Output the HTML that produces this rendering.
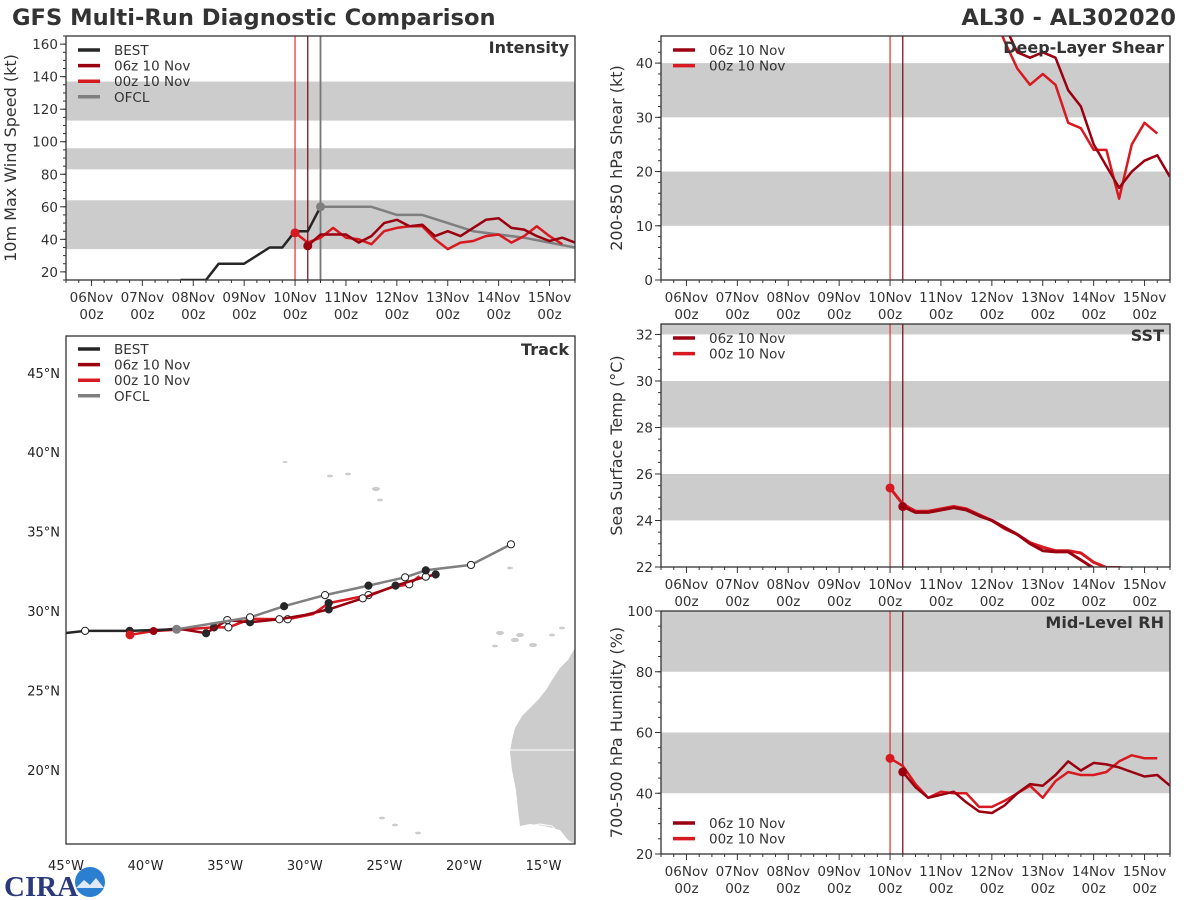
<!DOCTYPE html>
<html><head><meta charset="utf-8"><style>
html,body{margin:0;padding:0;background:#fff;}
svg{display:block;font-family:"DejaVu Sans","Liberation Sans",sans-serif;}
</style></head><body>
<svg id="chart" width="1200" height="900" viewBox="0 0 1200 900">
<text x="12" y="25" font-size="22.6" font-weight="bold" fill="#333">GFS Multi-Run Diagnostic Comparison</text>
<text x="1176" y="25" font-size="22.6" font-weight="bold" fill="#333" text-anchor="end">AL30 - AL302020</text>
<g>
<text x="4" y="896" font-size="29" font-weight="bold" fill="#2a3a7a" font-family="Liberation Serif, serif">CIRA</text>
<circle cx="90" cy="882" r="15" fill="#2a7fd0"/>
<path d="M76 888 L84 880 L90 885 L96 878 L104 888 Z" fill="#dfe8f5"/>
</g>
</svg>
<script>
// ---------- DATA ----------
const dayLabels = ["06Nov","07Nov","08Nov","09Nov","10Nov","11Nov","12Nov","13Nov","14Nov","15Nov"];
const intTicks = [20,40,60,80,100,120,140,160];
const shearTicks = [0,10,20,30,40];
const sstTicks = [22,24,26,28,30,32];
const rhTicks = [20,40,60,80,100];
const bestT = [42,48,54,60,66,72,78,84,90,96,102,108];
const bestV = [15,15,15,25,25,25,30,35,35,45,45,60];
const ofclT = [108,120,132,144,156,168,180,192,204,216,228];
const ofclV = [60,60,60,55,55,50,45,43,41,38,35];
const run06Start = 102;
const run00Start = 96;
const int06 = [36,43,43,43,38,42,50,52,48,49,42,45,42,47,52,53,47,46,42,39,41,38];
const int00 = [44,38,41,47,41,40,37,45,47,48,48,40,34,38,39,42,43,38,42,48,42,37];
const shear06 = [58,57,55,54,56,55,53,50,47,42,41,42,41,35,32,25,21,17,20,22,23,19];
const shear00 = [57,56,55,54,55,56,54,52,50,44,39,36,38,36,29,28,24,24,15,25,29,27];
const sst06 = [24.6,24.35,24.35,24.45,24.55,24.45,24.2,24.0,23.7,23.4,23.0,22.7,22.65,22.65,22.3,21.95,21.7,21.5,21.3,21.1,21.0,20.9];
const sst00 = [25.4,24.7,24.4,24.4,24.5,24.6,24.5,24.25,24.0,23.65,23.4,23.05,22.85,22.7,22.7,22.6,22.2,21.98,21.98,21.9,21.7,21.5];
const rh06 = [47,42,38.5,39.5,40.5,37,34,33.5,36,40,43,42.5,46,50.5,47.5,50,49.5,48.5,47,45.5,46,42.5];
const rh00 = [51.5,49,43,38.5,40.5,40,40,35.5,35.5,37.5,40,42.5,38.5,44,47,46,46,47,50.5,52.5,51.5,51.5];
// track
const latTicks = [20,25,30,35,40,45];
const lonTicks = [-45,-40,-35,-30,-25,-20,-15];
const bestLon = [-46,-43.8,-41.0,-38.05];
const bestLat = [28.5,28.75,28.75,28.85];
const bestMark = ["n","o","f","n"];
const ofclLon = [-38.05,-33.44,-31.3,-28.73,-26.0,-23.7,-22.4,-19.56,-17.05];
const ofclLat = [28.85,29.6,30.3,31.0,31.6,32.12,32.56,32.9,34.2];
const ofclMark = ["n","o","f","o","f","o","f","o","o"];
const trk06Lon = [-39.5,-38.0,-36.2,-34.87,-33.44,-31.6,-30.0,-28.5,-26.36,-24.3,-22.4,-21.78];
const trk06Lat = [28.74,28.9,28.6,29.43,29.29,29.48,29.75,30.1,30.8,31.6,32.16,32.3];
const trk06Mark = ["n","n","f","o","f","o","n","f","o","f","o","f"];
const trk00Lon = [-40.98,-39.5,-37.5,-35.7,-34.8,-33.4,-31.08,-29.5,-28.5,-26.0,-24.5,-23.44,-22.8];
const trk00Lat = [28.5,28.74,28.85,28.97,28.97,29.5,29.48,29.8,30.5,31.0,31.5,31.68,32.2];
const trk00Mark = ["n","n","n","f","o","n","o","n","f","o","n","o","n"];

// ---------- HELPERS ----------
const NS = "http://www.w3.org/2000/svg";
const svg = document.getElementById("chart");
function mk(parent, tag, attrs){const e=document.createElementNS(NS,tag);for(const k in attrs)e.setAttribute(k,attrs[k]);parent.appendChild(e);return e;}
const C_BEST="#262626", C_06="#9b0010", C_00="#d71920", C_OFCL="#7f7f7f", C_BAND="#cccccc";
let clipId=0;

function timePanel(cfg){
  const {x0,x1,y0,y1,vmin,vmax}=cfg;
  const sx=h=>x0+(h+12)/240*(x1-x0);
  const sy=v=>y1-(v-vmin)/(vmax-vmin)*(y1-y0);
  const g=mk(svg,"g",{});
  
  
  const cid="clip"+(clipId++);
  const cp=mk(g,"clipPath",{id:cid});
  mk(cp,"rect",{x:x0,y:y0,width:x1-x0,height:y1-y0});
  const pg=mk(g,"g",{"clip-path":"url(#"+cid+")"});
  cfg.bands.forEach(b=>{
    const r=mk(pg,"rect",{x:x0,y:sy(b[1]),width:x1-x0,height:sy(b[0])-sy(b[1]),fill:C_BAND});
    
    
  });
  const vl1=mk(pg,"line",{x1:sx(96),x2:sx(96),y1:y0,y2:y1,stroke:"#e23030","stroke-width":1.2});
  
  
  const vl2=mk(pg,"line",{x1:sx(102),x2:sx(102),y1:y0,y2:y1,stroke:"#7a0010","stroke-width":1.2});
  
  
  if(cfg.ofclLine){
    const vl3=mk(pg,"line",{x1:sx(108),x2:sx(108),y1:y0,y2:y1,stroke:"#777","stroke-width":1.8});
    
    
  }
  for(let h=-12;h<=228;h+=6){
    const major=h%24===0;
    mk(g,"line",{x1:sx(h),x2:sx(h),y1:y1,y2:y1+(major?6:3),stroke:"#333","stroke-width":1});
  }
  dayLabels.forEach((d,i)=>{
    const t=mk(g,"text",{x:sx(i*24),y:y1+22,"font-size":13.5,"text-anchor":"middle",fill:"#333"});
    t.textContent=d;
    
    
    const t2=mk(g,"text",{x:sx(i*24),y:y1+39,"font-size":13.5,"text-anchor":"middle",fill:"#333"});
    t2.textContent="00z";
    
    
  });
  for(let v=Math.ceil(vmin/cfg.minor)*cfg.minor;v<=vmax+1e-9;v+=cfg.minor){
    mk(g,"line",{x1:x0-3,x2:x0,y1:sy(v),y2:sy(v),stroke:"#333","stroke-width":1});
  }
  cfg.ticks.forEach(v=>{
    mk(g,"line",{x1:x0-6,x2:x0,y1:sy(v),y2:sy(v),stroke:"#333","stroke-width":1});
    const t=mk(g,"text",{x:x0-8,y:sy(v)+5,"font-size":13.5,"text-anchor":"end",fill:"#333"});
    t.textContent=v;
    
    
  });
  const yl=mk(g,"text",{x:0,y:0,"font-size":16,"text-anchor":"middle",fill:"#333",transform:`translate(${cfg.ylx},${(y0+y1)/2}) rotate(-90)`});
  yl.textContent=cfg.ylabel;
  
  
  const fr=mk(g,"rect",{x:x0,y:y0,width:x1-x0,height:y1-y0,fill:"none",stroke:"#333","stroke-width":1.3});
  
  
  const tt=mk(g,"text",{x:x1-6,y:y0+17,"font-size":16,"font-weight":"bold","text-anchor":"end",fill:"#333"});
  tt.textContent=cfg.title;
  
  
  return {sx,sy,g,pg};
}
function series(p,times,vals,color,name,w){
  const pts=times.map((t,i)=>p.sx(t).toFixed(1)+","+p.sy(vals[i]).toFixed(1)).join(" ");
  const l=mk(p.pg,"polyline",{points:pts,fill:"none",stroke:color,"stroke-width":w||2.5,"stroke-linejoin":"round"});
  
  
  return l;
}
function times(start,n){const a=[];for(let i=0;i<n;i++)a.push(start+6*i);return a;}
function dot(p,t,v,color,name,r){
  const c=mk(p.pg,"circle",{cx:p.sx(t),cy:p.sy(v),r:r||4.5,fill:color});
  
  
}
function legend(g,x,y,entries){
  entries.forEach((e,i)=>{
    const yy=y+i*15.6;
    const ln=mk(g,"line",{x1:x,x2:x+22,y1:yy,y2:yy,stroke:e[1],"stroke-width":3.5});
    
    
    const t=mk(g,"text",{x:x+36,y:yy+5,"font-size":13.5,fill:"#333"});
    t.textContent=e[0];
    
    
  });
}

// ---------- INTENSITY ----------
const pI=timePanel({name:"intensity",x0:66,x1:575,y0:36,y1:280,vmin:15,vmax:165,ticks:intTicks,minor:5,bands:[[34,64],[83,96],[113,137]],ylabel:"10m Max Wind Speed (kt)",ylx:16,title:"Intensity",ofclLine:true});
series(pI,bestT,bestV,C_BEST,"best-intensity-line");
series(pI,ofclT,ofclV,C_OFCL,"ofcl-intensity-line");
series(pI,times(run00Start,int00.length),int00,C_00,"run-00z-intensity-line");
series(pI,times(run06Start,int06.length),int06,C_06,"run-06z-intensity-line");
dot(pI,run00Start,int00[0],C_00,"run-00z-start-dot");
dot(pI,run06Start,int06[0],C_06,"run-06z-start-dot");
dot(pI,ofclT[0],ofclV[0],C_OFCL,"ofcl-start-dot");
legend(pI.g,78,50,[["BEST",C_BEST],["06z 10 Nov",C_06],["00z 10 Nov",C_00],["OFCL",C_OFCL]]);

// ---------- SHEAR ----------
const pS=timePanel({name:"shear",x0:661,x1:1170,y0:36,y1:280,vmin:0,vmax:45,ticks:shearTicks,minor:2,bands:[[10,20],[30,40]],ylabel:"200-850 hPa Shear (kt)",ylx:622,title:"Deep-Layer Shear"});
series(pS,times(run00Start,shear00.length),shear00,C_00,"run-00z-shear-line");
series(pS,times(run06Start,shear06.length),shear06,C_06,"run-06z-shear-line");
legend(pS.g,673,50,[["06z 10 Nov",C_06],["00z 10 Nov",C_00]]);

// ---------- SST ----------
const pT=timePanel({name:"sst",x0:661,x1:1170,y0:324,y1:567,vmin:22,vmax:32.45,ticks:sstTicks,minor:0.5,bands:[[24,26],[28,30],[32,33]],ylabel:"Sea Surface Temp (°C)",ylx:622,title:"SST"});
series(pT,times(run00Start,sst00.length),sst00,C_00,"run-00z-sst-line",3);
series(pT,times(run06Start,sst06.length),sst06,C_06,"run-06z-sst-line",3);
dot(pT,run00Start,sst00[0],C_00,"run-00z-sst-dot");
dot(pT,run06Start,sst06[0],C_06,"run-06z-sst-dot");
legend(pT.g,673,338,[["06z 10 Nov",C_06],["00z 10 Nov",C_00]]);

// ---------- RH ----------
const pR=timePanel({name:"rh",x0:661,x1:1170,y0:611,y1:854,vmin:20,vmax:100,ticks:rhTicks,minor:5,bands:[[40,60],[80,100]],ylabel:"700-500 hPa Humidity (%)",ylx:622,title:"Mid-Level RH"});
series(pR,times(run00Start,rh00.length),rh00,C_00,"run-00z-rh-line");
series(pR,times(run06Start,rh06.length),rh06,C_06,"run-06z-rh-line");
dot(pR,run00Start,rh00[0],C_00,"run-00z-rh-dot");
dot(pR,run06Start,rh06[0],C_06,"run-06z-rh-dot");
legend(pR.g,673,823,[["06z 10 Nov",C_06],["00z 10 Nov",C_00]]);

// ---------- TRACK ----------
(function(){
  const x0=66,x1=575,y0=336,y1=844;
  const lx=lon=>x0+(lon+45)/5*79.6;
  const ly=lat=>611-(lat-30)/5*79.4;
  const g=mk(svg,"g",{});
  
  
  const cp=mk(g,"clipPath",{id:"trackclip"});
  mk(cp,"rect",{x:x0,y:y0,width:x1-x0,height:y1-y0});
  const pg=mk(g,"g",{"clip-path":"url(#trackclip)"});
  const land=mk(pg,"path",{d:"M575 648 L568 660 L560 668 L552 680 L546 690 L538 700 L530 708 L522 716 L515 728 L512 740 L510 752 L512 770 L516 790 L518 810 L520 826 L530 824 L545 826 L560 830 L568 840 L575 844 Z",fill:C_BAND});
  
  
  mk(pg,"line",{x1:510,x2:575,y1:750,y2:750,stroke:"#fff","stroke-width":1});
  mk(pg,"path",{d:"M520 828 L540 824 L552 826 L560 834 L570 842",fill:"none",stroke:"#fff","stroke-width":1});
  [[500,633,3],[515,640,3],[520,635,3],[533,645,3],[552,635,2],[562,628,2],[495,646,2],[330,476,2],[348,474,2],[376,489,3],[380,500,2],[285,462,1.5],[382,818,2],[395,825,2],[418,833,2],[510,568,2]].forEach(a=>{
    const c=mk(pg,"ellipse",{cx:a[0],cy:a[1],rx:a[2]+1,ry:a[2]*0.7,fill:C_BAND});
    
    
  });
  function trk(lons,lats,marks,color,name,w){
    const pts=lons.map((l,i)=>lx(l).toFixed(1)+","+ly(lats[i]).toFixed(1)).join(" ");
    const pl=mk(pg,"polyline",{points:pts,fill:"none",stroke:color,"stroke-width":w||2.5,"stroke-linejoin":"round"});
    
    
    marks.forEach((m,i)=>{
      if(m==="n")return;
      const c=mk(pg,"circle",{cx:lx(lons[i]),cy:ly(lats[i]),r:3.6,fill:m==="f"?"#262626":"#fff",stroke:m==="f"?"#262626":"#222","stroke-width":1});
      
      
    });
  }
  trk(trk00Lon,trk00Lat,trk00Mark,C_00,"run-00z-track");
  trk(trk06Lon,trk06Lat,trk06Mark,C_06,"run-06z-track");
  trk(bestLon,bestLat,bestMark,C_BEST,"best-track");
  trk(ofclLon,ofclLat,ofclMark,C_OFCL,"ofcl-track");
  const d1=mk(pg,"circle",{cx:lx(trk00Lon[0]),cy:ly(trk00Lat[0]),r:4.5,fill:C_00});
  
  
  const d2=mk(pg,"circle",{cx:lx(trk06Lon[0]),cy:ly(trk06Lat[0]),r:4,fill:C_06});
  
  
  const d3=mk(pg,"circle",{cx:lx(ofclLon[0]),cy:ly(ofclLat[0]),r:4.5,fill:C_OFCL});
  
  
  latTicks.forEach(v=>{
    const t=mk(g,"text",{x:60,y:ly(v)+5,"font-size":13,"text-anchor":"end",fill:"#222"});
    t.textContent=v+"°N";
    
    
  });
  lonTicks.forEach(v=>{
    const t=mk(g,"text",{x:lx(v),y:870,"font-size":13,"text-anchor":"middle",fill:"#222"});
    t.textContent=(-v)+"°W";
    
    
  });
  const fr=mk(g,"rect",{x:x0,y:y0,width:x1-x0,height:y1-y0,fill:"none",stroke:"#333","stroke-width":1.3});
  
  
  const tt=mk(g,"text",{x:x1-6,y:y0+19,"font-size":16,"font-weight":"bold","text-anchor":"end",fill:"#333"});
  tt.textContent="Track";
  
  
  legend(g,78,349,[["BEST",C_BEST],["06z 10 Nov",C_06],["00z 10 Nov",C_00],["OFCL",C_OFCL]]);
})();
</script>
</body></html>
